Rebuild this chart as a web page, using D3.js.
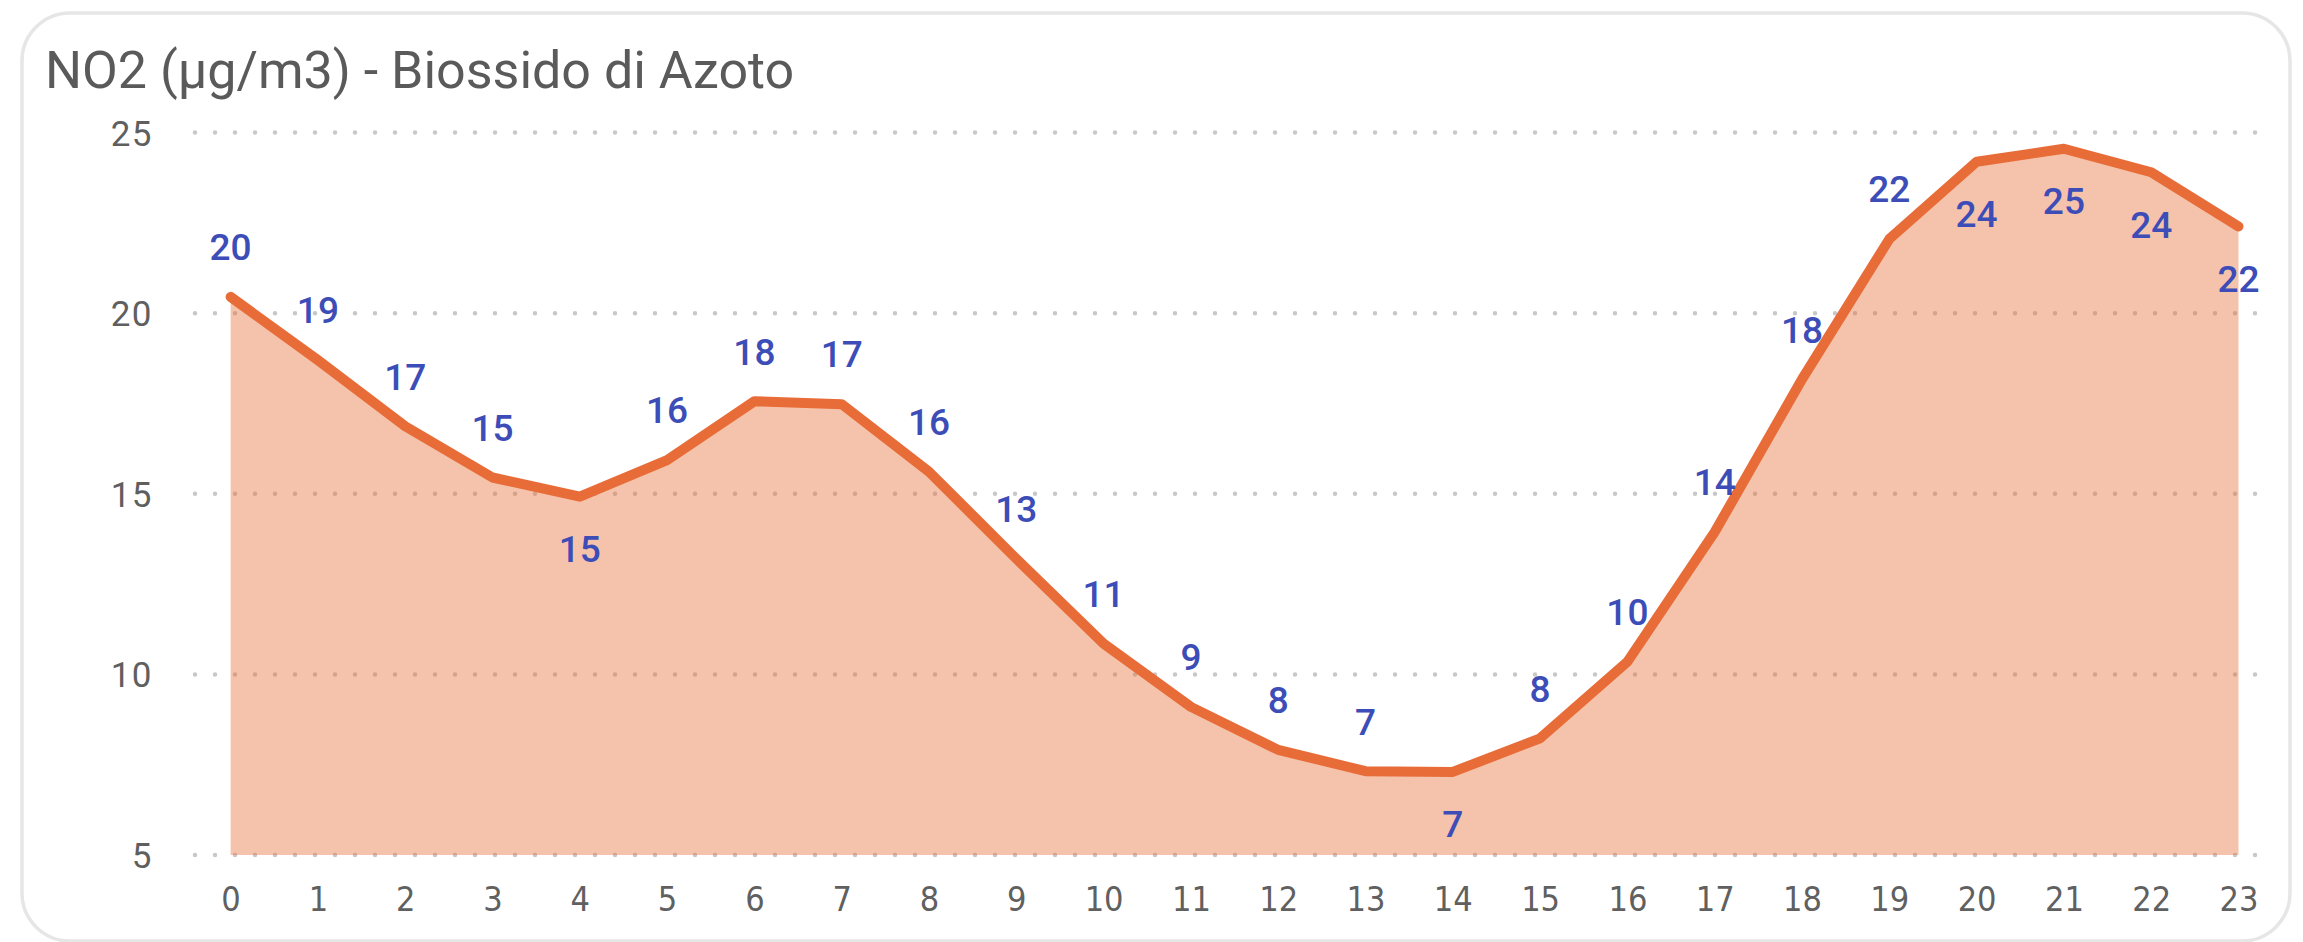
<!DOCTYPE html>
<html>
<head>
<meta charset="utf-8">
<script src="https://cdn.jsdelivr.net/npm/d3@7"></script>
<style>
  html, body { margin: 0; padding: 0; background: #ffffff; }
  svg { display: block; }
</style>
</head>
<body>
<svg id="chart" width="2303" height="942"></svg>
<script>
// ---- data ----
const title = "NO2 (µg/m3) - Biossido di Azoto";
const hours = [0,1,2,3,4,5,6,7,8,9,10,11,12,13,14,15,16,17,18,19,20,21,22,23];
const values = [20.45,18.7,16.87,15.45,14.92,15.93,17.56,17.48,15.61,13.2,10.85,9.1,7.91,7.32,7.30,8.23,10.35,13.94,18.17,22.05,24.19,24.55,23.9,22.4];
const labelSide = ["above","above","above","above","below","above","above","above","above","above","above","above",
                   "above","above","below","above","above","above","above","above","below","below","below","below"];
const yTicks = [5,10,15,20,25];

// ---- layout ----
const svg = d3.select("#chart");
const x = d3.scaleLinear().domain([0, 23]).range([230.6, 2238.5]);
const y = d3.scaleLinear().domain([5, 25]).range([855, 132.5]);

// card
svg.append("rect")
  .attr("x", 22).attr("y", 13)
  .attr("width", 2268).attr("height", 928)
  .attr("rx", 48).attr("ry", 48)
  .attr("fill", "#ffffff")
  .attr("stroke", "#e6e6e6").attr("stroke-width", 3.5);

// title
svg.append("text")
  .attr("x", 45).attr("y", 88)
  .attr("font-family", "Roboto, 'DejaVu Sans', sans-serif")
  .attr("font-size", 52)
  .attr("fill", "#5a5a5a")
  .text(title);

// grid (dotted)
const grid = svg.append("g");
grid.selectAll("line").data(yTicks).join("line")
  .attr("x1", 195).attr("x2", 2258)
  .attr("y1", d => y(d)).attr("y2", d => y(d))
  .attr("stroke", "#c8c8c8")
  .attr("stroke-width", 4.5)
  .attr("stroke-linecap", "round")
  .attr("stroke-dasharray", "0 20");

// y axis
const yAxis = d3.axisLeft(y).tickValues(yTicks).tickSize(0).tickPadding(0);
const yg = svg.append("g").attr("transform", "translate(153,0)").call(yAxis);
yg.select(".domain").remove();
yg.selectAll("text")
  .attr("font-family", "Roboto, 'DejaVu Sans', sans-serif")
  .attr("font-size", 35)
  .attr("letter-spacing", 1.5)
  .attr("fill", "#5f5f5f")
  .attr("dy", "0.36em");

// x axis
const xAxis = d3.axisBottom(x).tickValues(hours).tickFormat(d3.format("d")).tickSize(0).tickPadding(0);
const xg = svg.append("g").attr("transform", "translate(0,899)").call(xAxis);
xg.select(".domain").remove();
xg.selectAll("text")
  .attr("font-family", "'Liberation Sans Narrow', 'DejaVu Sans Condensed', 'Roboto', sans-serif")
  .attr("font-size", 34)
  .attr("fill", "#606060")
  .attr("dy", "0.36em");

// area
const area = d3.area()
  .x((d, i) => x(hours[i]))
  .y0(y(5))
  .y1(d => y(d));
svg.append("path")
  .datum(values)
  .attr("d", area)
  .attr("fill", "#E8703A")
  .attr("fill-opacity", 0.42);

// line
const line = d3.line()
  .x((d, i) => x(hours[i]))
  .y(d => y(d));
svg.append("path")
  .datum(values)
  .attr("d", line)
  .attr("fill", "none")
  .attr("stroke", "#E86C38")
  .attr("stroke-width", 10)
  .attr("stroke-linejoin", "round")
  .attr("stroke-linecap", "round");

// data labels
svg.append("g").selectAll("text").data(values).join("text")
  .attr("x", (d, i) => x(hours[i]))
  .attr("y", (d, i) => y(d) + (labelSide[i] === "above" ? -50 : 52))
  .attr("dy", "0.36em")
  .attr("text-anchor", "middle")
  .attr("font-family", "Roboto, 'DejaVu Sans', sans-serif")
  .attr("font-size", 37)
  .attr("font-weight", 500)
  .attr("fill", "#3D4DB7")
  .text(d => Math.round(d));
</script>
</body>
</html>
